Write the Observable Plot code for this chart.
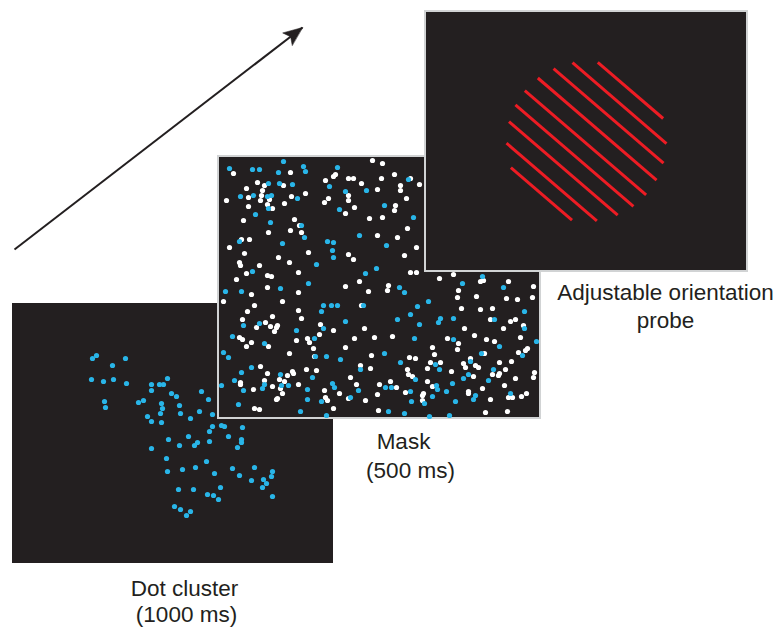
<!DOCTYPE html>
<html><head><meta charset="utf-8">
<script src="https://cdn.jsdelivr.net/npm/d3@7"></script>
<script src="https://cdn.jsdelivr.net/npm/@observablehq/plot@0.6"></script>
<style>body{margin:0;background:#fff}#chart svg{display:block}</style>
</head><body><div id="chart"></div>
<script>
// ---- data (picture coordinates) ----
const panelNames = ["Dot cluster", "Mask", "Probe"];
const panelX1 = [12, 218, 425];
const panelY1 = [303, 156, 11];
const panelX2 = [333, 540, 747];
const panelY2 = [563, 418, 271];

const clusterCyan = [[92,358],[96,355],[125,358],[112,365],[91,379],[103,381],[113,379],[126,383],[151,384],[159,384],[163,384],[167,378],[151,390],[171,393],[176,396],[201,391],[208,399],[104,401],[105,407],[138,402],[143,400],[161,403],[162,408],[160,413],[179,405],[180,413],[147,416],[151,421],[161,422],[190,418],[199,411],[212,414],[212,426],[209,431],[221,425],[224,426],[242,427],[168,439],[188,436],[179,445],[194,445],[197,442],[209,441],[228,436],[241,439],[241,442],[237,447],[151,448],[166,458],[167,471],[182,469],[195,467],[206,461],[214,473],[232,468],[239,475],[254,467],[251,480],[263,479],[266,483],[262,487],[271,476],[272,471],[272,496],[178,489],[193,489],[220,487],[207,494],[213,495],[218,499],[174,506],[180,509],[190,511],[186,515]];

const maskWhite = [[372,160],[233,173],[290,172],[335,174],[333,176],[325,180],[348,178],[353,178],[257,182],[283,185],[264,185],[246,188],[262,190],[361,183],[377,189],[248,197],[261,195],[269,199],[260,200],[226,200],[291,196],[305,193],[328,198],[324,202],[348,195],[348,200],[284,203],[248,206],[267,204],[272,208],[345,213],[354,207],[243,220],[294,219],[299,225],[369,218],[268,232],[290,230],[301,232],[377,235],[241,239],[249,239],[229,247],[308,252],[244,253],[348,254],[353,259],[278,257],[239,262],[240,265],[259,265],[289,262],[246,273],[298,272],[267,275],[271,276],[236,279],[359,281],
[382,163],[394,174],[410,178],[381,178],[419,184],[400,185],[400,190],[406,198],[395,205],[394,210],[382,217],[407,228],[397,237],[416,247],[404,255],[410,272],[416,272],
[453,274],[439,278],[483,280],[480,281],[508,281],[533,286],[388,285],[387,290],[458,290],[457,297],[476,296],[506,298],[517,299],[532,297],[461,308],[480,309],[492,308],[490,319],[510,321],[515,319],[464,328],[503,328],[523,325],[392,336],[447,338],[474,335],[486,339],[494,341],[520,337],[432,347],[458,343],[457,349],[527,348],[525,350],[434,354],[484,353],[518,352],[409,357],[415,358],[470,358],[430,362],[440,362],[463,363],[499,362],[511,361],[427,368],[465,367],[475,365],[478,367],[407,369],[451,371],[505,369],[534,372],[408,374],[492,374],[499,373],[498,375],[533,377],[412,376],[473,376],[515,378],[390,381],[427,381],[504,385],[396,387],[432,386],[482,388],[405,392],[468,391],[468,393],[423,393],[422,395],[490,399],[508,397],[512,397],[526,393],[521,396],[422,400],[485,412],[507,411],
[251,294],[267,287],[298,292],[345,286],[368,291],[223,301],[282,301],[254,305],[247,311],[298,310],[361,305],[272,316],[242,319],[265,322],[256,327],[270,326],[277,325],[276,327],[274,331],[301,318],[320,324],[333,330],[364,328],[239,337],[242,339],[251,342],[246,346],[268,346],[296,340],[307,338],[319,334],[309,342],[313,348],[354,338],[374,337],[345,347],[289,353],[314,356],[371,355],[260,366],[292,371],[293,373],[287,375],[267,373],[306,369],[316,370],[360,365],[370,368],[240,382],[240,384],[264,380],[279,379],[284,381],[298,384],[350,377],[356,384],[379,384],[272,386],[280,388],[253,389],[324,390],[339,393],[377,394],[282,393],[277,398],[276,399],[325,397],[327,400],[348,398],[365,400],[254,408],[259,409],[333,408],[378,410]];

const maskCyan = [[283,161],[229,168],[252,169],[259,169],[278,172],[303,166],[305,171],[337,167],[268,183],[279,183],[292,184],[329,186],[366,190],[240,196],[253,195],[267,196],[271,195],[297,198],[345,191],[268,208],[339,209],[255,214],[270,222],[301,225],[304,237],[359,235],[239,241],[282,243],[327,241],[333,242],[332,250],[333,257],[316,264],[376,268],[365,273],[252,271],[308,283],
[408,179],[384,205],[413,217],[386,245],
[482,276],[462,283],[503,287],[399,287],[404,292],[428,301],[417,306],[524,311],[410,314],[440,318],[453,318],[494,319],[397,319],[438,322],[419,324],[524,328],[414,338],[453,339],[536,341],[499,346],[384,353],[481,353],[522,355],[470,361],[400,362],[435,364],[439,369],[493,369],[468,374],[415,379],[463,378],[488,380],[452,383],[385,387],[391,387],[436,385],[437,389],[410,391],[446,391],[432,396],[475,395],[510,393],[411,401],[424,403],[455,401],[473,399],[388,411],[404,413],[429,416],[449,415],
[225,291],[241,291],[280,288],[323,305],[331,305],[337,305],[321,311],[363,305],[243,325],[259,323],[345,321],[323,328],[296,330],[232,336],[264,343],[314,338],[223,352],[228,357],[315,356],[326,356],[340,359],[251,367],[241,372],[312,377],[360,369],[280,374],[221,385],[234,380],[264,384],[281,385],[288,385],[332,383],[334,387],[262,388],[243,390],[307,389],[358,390],[307,399],[321,401],[350,397],[238,404],[300,411],[326,415]];

// orientation probe: grating of parallel red lines inside a circle
const probeCenter = [586, 141];
const probeRadius = 80;
const probeAngle = 40.7; // degrees, clockwise from horizontal
const probeOffsets = [-67.4, -50.6, -33.8, -16.4, 1.6, 18.5, 35.5, 53.4, 69.1];

// time arrow
const arrowFrom = [14, 249];
const arrowTo = [302, 27];

// labels
const labelText = ["Dot cluster", "(1000 ms)", "Mask", "(500 ms)", "Adjustable orientation", "probe"];
const labelX = [184, 186, 403, 410, 665, 665];
const labelY = [588, 614, 441, 470, 292, 320];

// ---- build tables ----
const panels = panelNames.map((name, i) => ({name, x1: panelX1[i], y1: panelY1[i], x2: panelX2[i], y2: panelY2[i]}));
const th = probeAngle * Math.PI / 180;
const ux = Math.cos(th), uy = Math.sin(th), nx = -Math.sin(th), ny = Math.cos(th);
const probeLines = probeOffsets.map(d => {
  const h = Math.sqrt(probeRadius * probeRadius - d * d);
  const mx = probeCenter[0] + d * nx, my = probeCenter[1] + d * ny;
  return {x1: mx - h * ux, y1: my - h * uy, x2: mx + h * ux, y2: my + h * uy};
});
const arrow = [{x1: arrowFrom[0], y1: arrowFrom[1], x2: arrowTo[0], y2: arrowTo[1],
  rot: Math.atan2(arrowTo[0] - arrowFrom[0], arrowFrom[1] - arrowTo[1]) * 180 / Math.PI}];
const labels = labelText.map((t, i) => ({t, x: labelX[i], y: labelY[i]}));

const PANEL = "#231f20", CYAN = "#29b5e8", BORDER = "#d1d3d4", RED = "#ed1c24";
const headShape = {
  draw(ctx, l) {
    ctx.moveTo(0, -l);
    ctx.lineTo(-7.8, -l + 19);
    ctx.lineTo(0, -l + 15);
    ctx.lineTo(7.8, -l + 19);
    ctx.closePath();
  }
};
const px = d => d[0], py = d => d[1];

const W = 776, H = 628;
const chart = Plot.plot({
  width: W, height: H, margin: 0,
  x: {domain: [0, W], range: [0, W], axis: null},
  y: {domain: [0, H], range: [0, H], axis: null},
  style: {background: "#fff", overflow: "visible"},
  marks: [
    Plot.rect([panels[0]], {x1: "x1", y1: "y1", x2: "x2", y2: "y2", fill: PANEL}),
    Plot.dot(clusterCyan, {x: px, y: py, r: 2.6, fill: CYAN, stroke: null}),
    Plot.rect([panels[1]], {x1: "x1", y1: "y1", x2: "x2", y2: "y2", fill: PANEL, stroke: BORDER, strokeWidth: 2}),
    Plot.dot(maskWhite, {x: px, y: py, r: 2.6, fill: "#ffffff", stroke: null}),
    Plot.dot(maskCyan, {x: px, y: py, r: 2.6, fill: CYAN, stroke: null}),
    Plot.rect([panels[2]], {x1: "x1", y1: "y1", x2: "x2", y2: "y2", fill: PANEL, stroke: BORDER, strokeWidth: 2}),
    Plot.link(probeLines, {x1: "x1", y1: "y1", x2: "x2", y2: "y2", stroke: RED, strokeWidth: 3, strokeLinecap: "butt"}),
    Plot.link(arrow, {x1: "x1", y1: "y1", x2: "x2", y2: "y2", stroke: PANEL, strokeWidth: 2}),
    Plot.vector(arrow, {x: "x2", y: "y2", rotate: "rot", length: 20, anchor: "end", shape: headShape, fill: PANEL, stroke: PANEL, strokeWidth: 0.5}),
    Plot.text(labels, {x: "x", y: "y", text: "t", fontSize: 22.5, fontFamily: "Liberation Sans, Arial, Helvetica, sans-serif", fill: "#231f20"})
  ]
});
document.getElementById("chart").appendChild(chart);
</script>
</body></html>
